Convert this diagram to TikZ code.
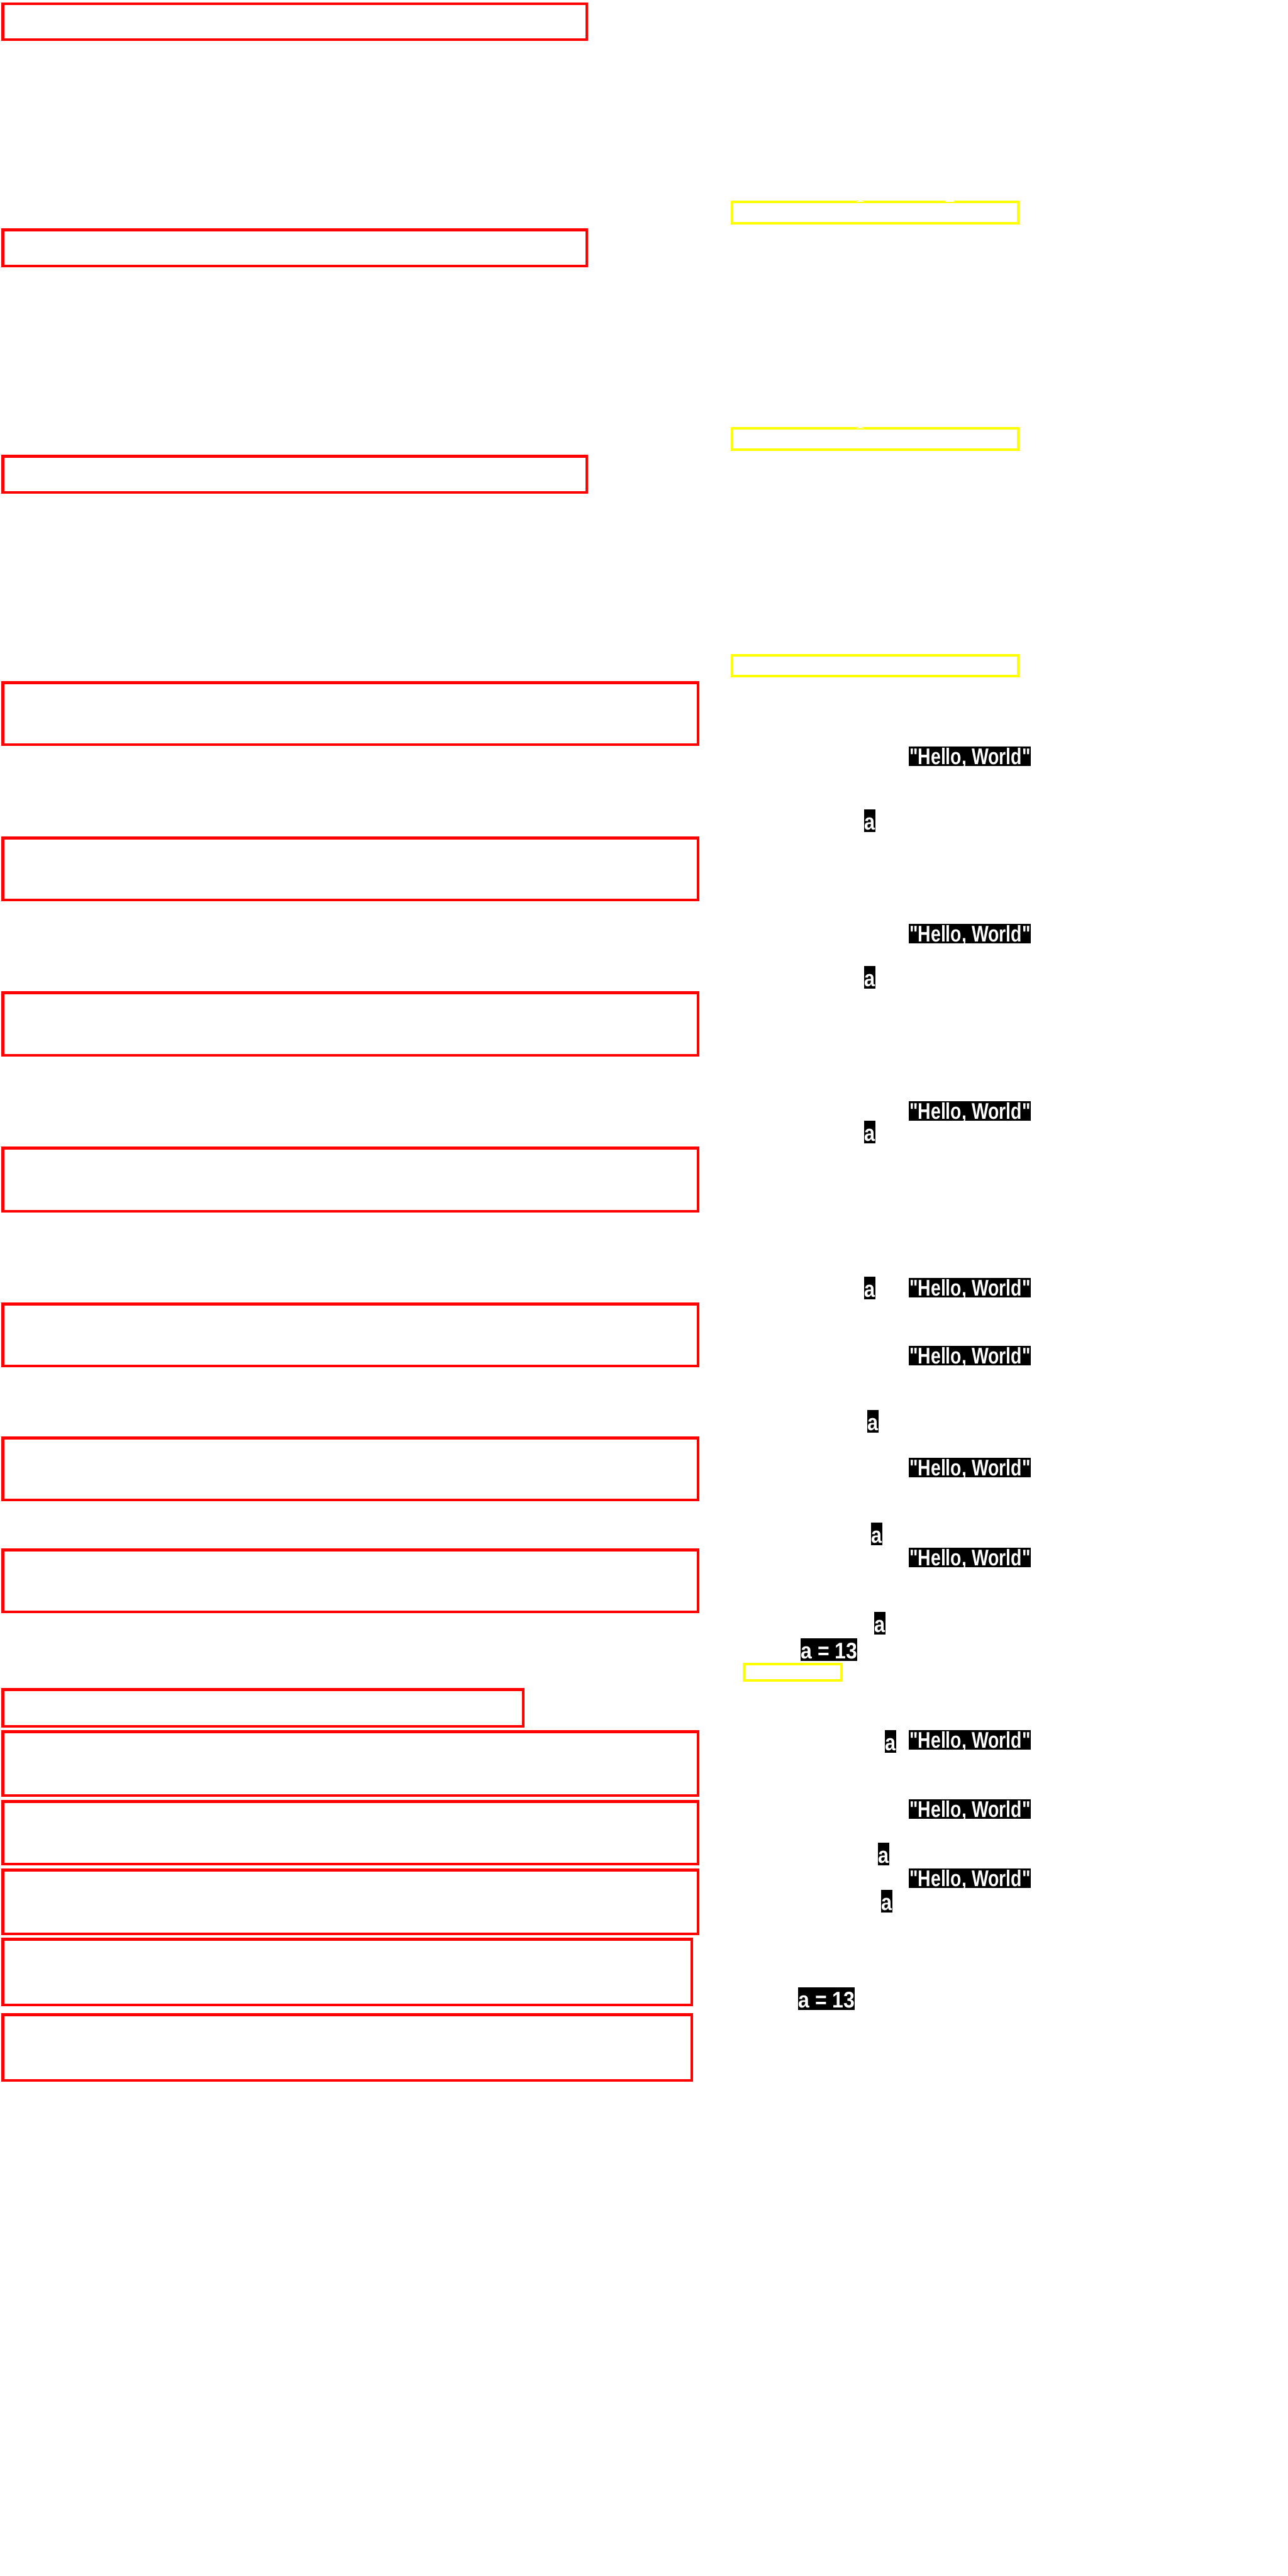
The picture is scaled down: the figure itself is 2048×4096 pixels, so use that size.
\documentclass[tikz,border=0pt]{standalone}
\usepackage{fontspec}
\usepackage{graphicx}
\newfontfamily\tagfont{Liberation Sans}

\begin{document}
\begin{tikzpicture}[x=0.5pt, y=-0.5pt,
    tagbox/.style={fill=black, text=white, inner sep=0pt, anchor=north west,
        font=\tagfont\bfseries\fontsize{18}{18}\selectfont},
    hwtag/.style={tagbox, minimum width=97pt, text height=14pt, text depth=1.5pt},
    atag/.style={tagbox, minimum width=8.75pt, text height=16pt, text depth=1.75pt},
    eqtag/.style={tagbox, minimum width=45pt, text height=16pt, text depth=2pt},
    numtag/.style={text=white, inner sep=0pt, anchor=base,
        font=\fontsize{20}{20}\selectfont}]
    % Colours
    \definecolor{boxred}{RGB}{255, 0, 0}
    \definecolor{boxyellow}{RGB}{255, 255, 0}

    \useasboundingbox (0,0) rectangle (2048,4096);

    % 1. Red frames on the left (top/bottom/right edge)
    \foreach \t/\b/\r in {3.5/65/935, 363/425/935, 723/785/935,
        1083/1186/1112, 1330/1433/1112, 1576/1680/1112, 1823/1928/1112,
        2071/2174/1112, 2284/2387/1112, 2462/2565/1112, 2684/2747/834,
        2751/2857/1112, 2862/2966/1112, 2971/3077/1112,
        3081/3190/1102, 3201/3310/1102} {
        \draw[boxred, line width=2.25pt] (4.25, \t+2.25) rectangle (\r-2.25, \b-2.25);
    }

    % 2. Yellow frames on the right
    \foreach \l/\t/\r/\b in {1162/319/1621/357, 1162/679/1621/717,
        1162/1040/1621/1077, 1181/2644/1340/2674} {
        \draw[boxyellow, line width=2pt] (\l+2, \t+2) rectangle (\r-2, \b-2);
    }

    % 3. White digits sitting on the yellow frames
    \node[numtag] (one1) at (1368, 321) {1};
    \node[numtag] (two1) at (1511, 321) {2};
    \node[numtag] (one2) at (1368, 681) {1};

    % 4. Black tags
    \foreach \y [count=\i] in {1187, 1469, 1751, 2032, 2140, 2318, 2461, 2751, 2861, 2971} {
        \node[hwtag] (hw\i) at (1445, \y) {\scalebox{0.79}[1]{"Hello, World"}};
    }
    \foreach \x/\y [count=\i] in {1374/1287, 1374/1536, 1374/1782, 1374/2030, 1379/2242,
        1385/2421, 1390/2563, 1407/2751, 1396/2930, 1401/3005} {
        \node[atag] (a\i) at (\x, \y) {\scalebox{0.85}[1]{a}};
    }
    \node[eqtag] (eq1) at (1273, 2605) {\scalebox{0.89}[1]{a = 13}};
    \node[eqtag] (eq2) at (1269, 3160) {\scalebox{0.89}[1]{a = 13}};

\end{tikzpicture}
\end{document}
